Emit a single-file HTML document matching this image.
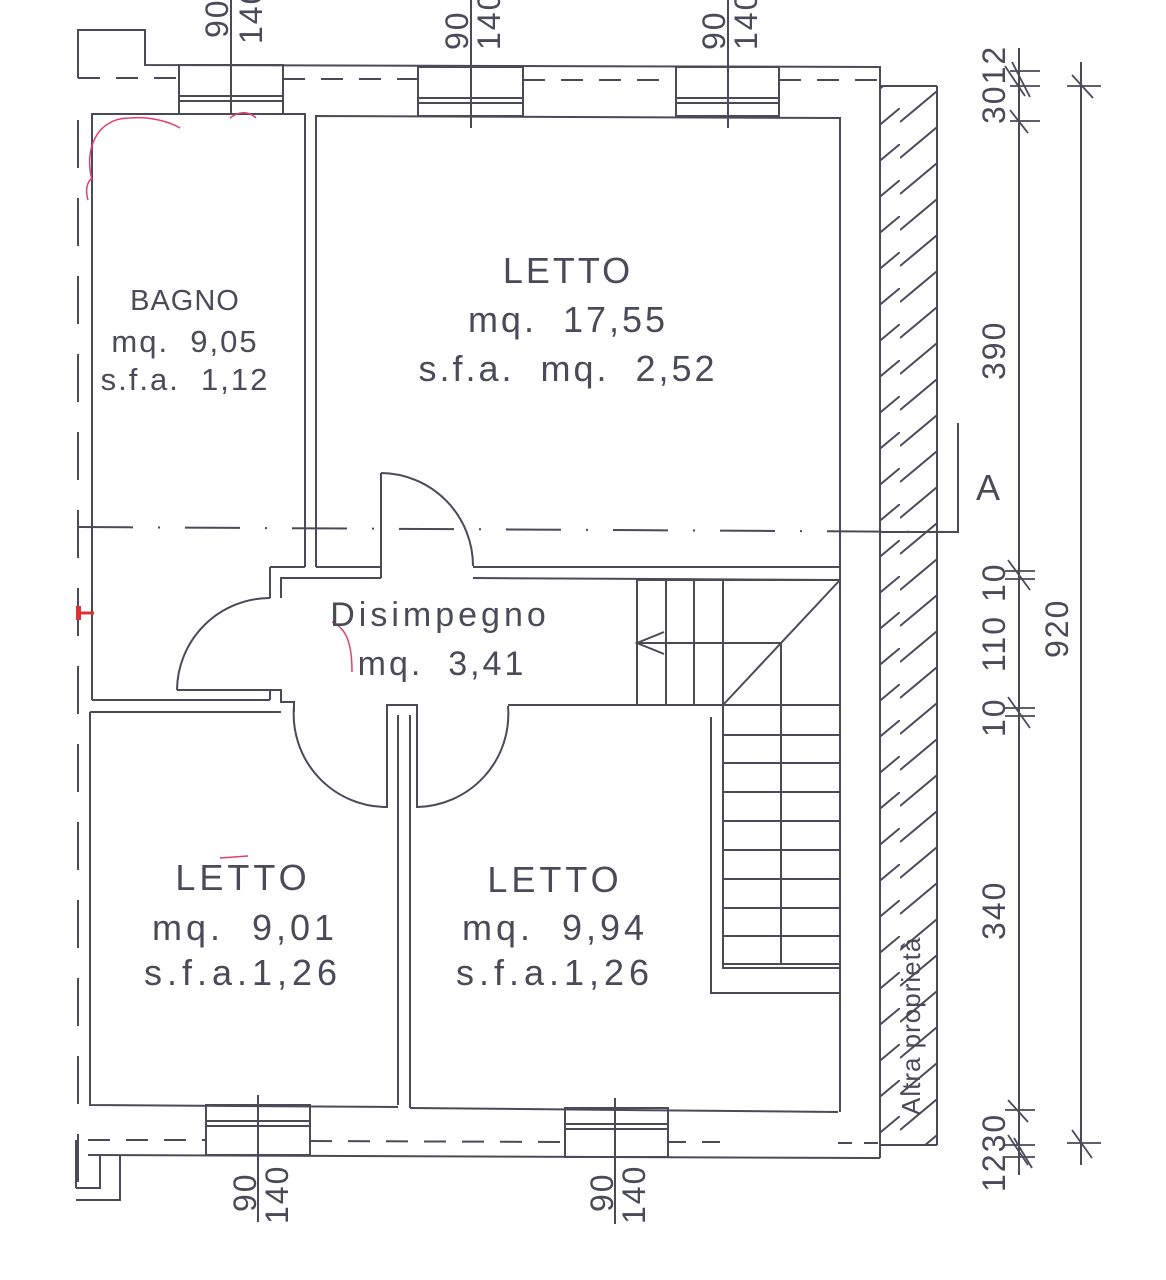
<!DOCTYPE html>
<html><head><style>
html,body{margin:0;padding:0;background:#fff;}
svg{display:block;}
text{font-family:"Liberation Sans",sans-serif;fill:#4a4a58;white-space:pre;}
</style></head><body>
<svg width="1166" height="1280" viewBox="0 0 1166 1280" xmlns="http://www.w3.org/2000/svg" xml:space="preserve">
<defs>
<clipPath id="hc"><rect x="880" y="86" width="57" height="1060"/></clipPath>
<pattern id="hp" width="60" height="36" patternUnits="userSpaceOnUse">
<line x1="0" y1="50" x2="60" y2="0" stroke="#4a4a58" stroke-width="2"/>
<line x1="0" y1="14" x2="60" y2="-36" stroke="#4a4a58" stroke-width="2"/>
</pattern>
</defs>
<g stroke="#4a4a58" stroke-width="2" fill="none">
<polyline points="78,78 78,30 145,30 145,65 880,67 880,86"/>
<g stroke-dasharray="22,16">
<line x1="78" y1="78" x2="179" y2="78"/>
<line x1="283" y1="79" x2="418" y2="79"/>
<line x1="523" y1="80" x2="676" y2="80"/>
<line x1="779" y1="80" x2="880" y2="80"/>
</g>
<line x1="78" y1="120" x2="78" y2="1200" stroke-dasharray="48,30"/>
<rect x="880" y="86" width="57" height="1060" fill="url(#hp)" stroke="none" clip-path="url(#hc)"/>
<line x1="880" y1="86" x2="937" y2="86"/>
<line x1="880" y1="86" x2="880" y2="1158"/>
<line x1="937" y1="86" x2="937" y2="1145"/>
<line x1="880" y1="1145" x2="937" y2="1145"/>
<rect x="179" y="65" width="104" height="49"/><line x1="179" y1="96" x2="283" y2="96"/><line x1="179" y1="101" x2="283" y2="101"/>
<rect x="418" y="67" width="105" height="49"/><line x1="418" y1="98" x2="523" y2="98"/><line x1="418" y1="103" x2="523" y2="103"/>
<rect x="676" y="67" width="103" height="49"/><line x1="676" y1="98" x2="779" y2="98"/><line x1="676" y1="103" x2="779" y2="103"/>
<line x1="231" y1="0" x2="231" y2="114"/>
<line x1="471" y1="0" x2="471" y2="128"/>
<line x1="728" y1="0" x2="728" y2="128"/>
<polyline points="92,700 92,114 305,114 305,567"/>
<line x1="92" y1="700" x2="270" y2="700"/>
<line x1="90" y1="712" x2="281" y2="712"/>
<polyline points="316,567 316,116 840,118 840,1112"/>
<line x1="305" y1="567" x2="270" y2="567"/>
<polyline points="270,567 270,598"/>
<polyline points="381,567 316,567"/>
<polyline points="281,598 281,578 381,578"/>
<line x1="381" y1="578" x2="381" y2="473"/>
<path d="M381,473 A93,93 0 0 1 473,566"/>
<line x1="473" y1="567" x2="840" y2="567"/>
<line x1="473" y1="578" x2="840" y2="580"/>
<line x1="177" y1="690" x2="270" y2="690"/>
<path d="M177,690 A93,93 0 0 1 270,598"/>
<polyline points="270,690 270,700"/>
<polyline points="270,690 281,690 281,702 294,702 294,712"/>
<path d="M294,706 A93,93 0 0 0 387,807"/>
<polyline points="387,808 387,705 417,705 417,808"/>
<line x1="398" y1="715" x2="398" y2="1105"/>
<line x1="410" y1="715" x2="410" y2="1108"/>
<path d="M508,706 A93,93 0 0 1 417,807"/>
<line x1="508" y1="705" x2="720" y2="705"/>
<rect x="637" y="580" width="203" height="125"/>
<line x1="666" y1="580" x2="666" y2="705"/>
<line x1="694" y1="580" x2="694" y2="705"/>
<line x1="723" y1="580" x2="723" y2="705"/>
<line x1="637" y1="643" x2="781" y2="643"/>
<polyline points="664,632 637,643 664,654"/>
<line x1="723" y1="705" x2="840" y2="580"/>
<line x1="781" y1="643" x2="781" y2="965"/>
<polyline points="723,705 723,968 840,968"/>
<g>
<line x1="723" y1="735" x2="840" y2="735"/><line x1="723" y1="763" x2="840" y2="763"/>
<line x1="723" y1="792" x2="840" y2="792"/><line x1="723" y1="821" x2="840" y2="821"/>
<line x1="723" y1="850" x2="840" y2="850"/><line x1="723" y1="879" x2="840" y2="879"/>
<line x1="723" y1="908" x2="840" y2="908"/><line x1="723" y1="936" x2="840" y2="936"/>
<line x1="723" y1="964" x2="840" y2="964"/>
</g>
<polyline points="711,717 711,993 840,993"/>
<polyline points="90,712 90,1105 398,1107"/>
<polyline points="410,1108 838,1112"/>
<line x1="88" y1="1155" x2="870" y2="1158"/>
<line x1="870" y1="1158" x2="880" y2="1158"/>
<rect x="206" y="1105" width="104" height="50"/><line x1="206" y1="1121" x2="310" y2="1121"/><line x1="206" y1="1126" x2="310" y2="1126"/>
<rect x="565" y="1108" width="103" height="49"/><line x1="565" y1="1124" x2="668" y2="1124"/><line x1="565" y1="1129" x2="668" y2="1129"/>
<line x1="258" y1="1095" x2="258" y2="1222"/>
<line x1="615" y1="1098" x2="615" y2="1224"/>
<line x1="88" y1="1140" x2="206" y2="1140" stroke-dasharray="22,16"/>
<line x1="310" y1="1141" x2="565" y2="1142" stroke-dasharray="22,16"/>
<line x1="668" y1="1142" x2="720" y2="1142" stroke-dasharray="18,16"/>
<line x1="838" y1="1143" x2="880" y2="1143" stroke-dasharray="14,12"/>
<polyline points="76,1140 76,1188"/>
<polyline points="76,1188 100,1188 100,1155"/>
<polyline points="76,1200 120,1200 120,1155"/>
<line x1="78" y1="527" x2="958" y2="532" stroke-dasharray="55,25,2,25"/>
<polyline points="880,532 958,532 958,423"/>
<line x1="1019" y1="48" x2="1019" y2="1175"/>
<line x1="1081" y1="62" x2="1081" y2="1165"/>
<g stroke-width="1.8">
<line x1="1010" y1="71" x2="1040" y2="71"/><line x1="1010" y1="86" x2="1040" y2="86"/><line x1="1010" y1="121" x2="1040" y2="121"/>
<line x1="1012" y1="62" x2="1030" y2="97"/><line x1="1005" y1="66" x2="1025" y2="96"/><line x1="1010" y1="110" x2="1028" y2="133"/>
<line x1="1067" y1="86" x2="1101" y2="86"/><line x1="1072" y1="75" x2="1093" y2="98"/>
<line x1="1005" y1="571" x2="1035" y2="571"/><line x1="1005" y1="579" x2="1035" y2="579"/><line x1="1008" y1="560" x2="1030" y2="590"/>
<line x1="1005" y1="708" x2="1035" y2="708"/><line x1="1005" y1="716" x2="1035" y2="716"/><line x1="1008" y1="697" x2="1030" y2="728"/>
<line x1="1005" y1="1110" x2="1035" y2="1110"/><line x1="1005" y1="1145" x2="1035" y2="1145"/><line x1="1005" y1="1157" x2="1035" y2="1157"/>
<line x1="1008" y1="1100" x2="1028" y2="1122"/><line x1="1008" y1="1135" x2="1028" y2="1165"/><line x1="1014" y1="1138" x2="1032" y2="1168"/>
<line x1="1067" y1="1143" x2="1101" y2="1143"/><line x1="1072" y1="1130" x2="1092" y2="1158"/>
</g>
</g>
<g stroke="#e0406a" stroke-width="1.5" fill="none">
<path d="M92,180 C84,150 96,118 130,118 C150,116 170,122 180,128"/>
<path d="M88,200 C85,190 87,182 92,178"/>
<path d="M230,118 C240,110 250,112 256,118"/>
<path d="M332,622 C345,628 352,640 352,672"/>
<line x1="220" y1="858" x2="248" y2="856"/>
</g>
<rect x="76" y="606" width="5" height="14" fill="#e03030"/>
<line x1="76" y1="613" x2="94" y2="613" stroke="#e03030" stroke-width="3"/>
<g font-size="36" text-anchor="middle" letter-spacing="3">
<text x="568" y="283">LETTO</text>
<text x="568" y="332">mq.  17,55</text>
<text x="568" y="381">s.f.a.  mq.  2,52</text>
<text x="185" y="310" font-size="29" letter-spacing="1">BAGNO</text>
<text x="185" y="352" font-size="31" letter-spacing="2">mq.  9,05</text>
<text x="185" y="390" font-size="31" letter-spacing="2">s.f.a.  1,12</text>
<text x="440" y="626" font-size="34" letter-spacing="4">Disimpegno</text>
<text x="442" y="675" font-size="34" letter-spacing="3">mq.  3,41</text>
<text x="243" y="890" letter-spacing="4">LETTO</text>
<text x="245" y="940" letter-spacing="4">mq.  9,01</text>
<text x="243" y="985" letter-spacing="5">s.f.a.1,26</text>
<text x="555" y="892" letter-spacing="4">LETTO</text>
<text x="555" y="940" letter-spacing="4">mq.  9,94</text>
<text x="555" y="985" letter-spacing="5">s.f.a.1,26</text>
<text x="988" y="500" letter-spacing="0">A</text>
</g>
<g font-size="32" letter-spacing="2">
<text transform="translate(228,38) rotate(-90)">90</text>
<text transform="translate(262,44) rotate(-90)">140</text>
<text transform="translate(468,50) rotate(-90)">90</text>
<text transform="translate(500,50) rotate(-90)">140</text>
<text transform="translate(725,50) rotate(-90)">90</text>
<text transform="translate(757,50) rotate(-90)">140</text>
<text transform="translate(256,1212) rotate(-90)">90</text>
<text transform="translate(288,1224) rotate(-90)">140</text>
<text transform="translate(613,1212) rotate(-90)">90</text>
<text transform="translate(645,1224) rotate(-90)">140</text>
<text transform="translate(1005,124) rotate(-90)">3012</text>
<text transform="translate(1005,380) rotate(-90)">390</text>
<text transform="translate(1005,602) rotate(-90)">10</text>
<text transform="translate(1005,672) rotate(-90)">110</text>
<text transform="translate(1005,737) rotate(-90)">10</text>
<text transform="translate(1068,658) rotate(-90)">920</text>
<text transform="translate(1005,940) rotate(-90)">340</text>
<text transform="translate(1005,1192) rotate(-90)">1230</text>
<text transform="translate(920,1115) rotate(-90)" font-size="26" letter-spacing="1">Altra proprietà</text>
</g>
</svg>
</body></html>
